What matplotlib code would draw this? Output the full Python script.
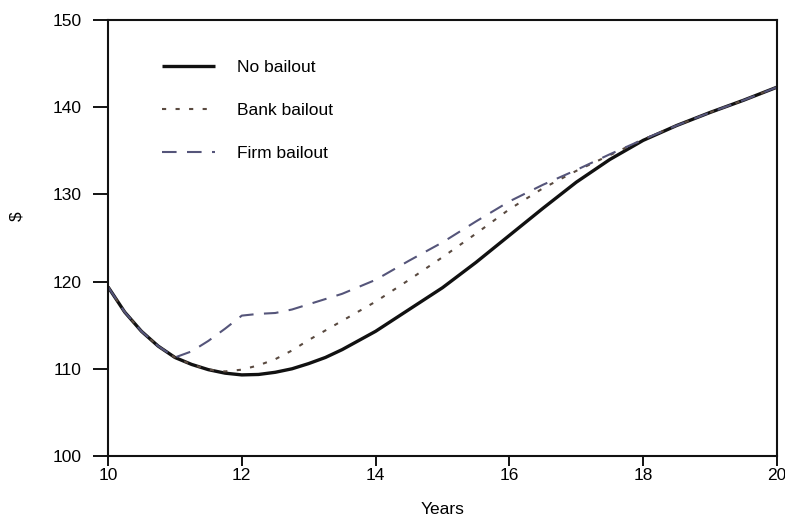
import numpy as np
import matplotlib
matplotlib.use("Agg")
import matplotlib.pyplot as plt

plt.rcParams['font.family'] = ['Liberation Sans', 'DejaVu Sans']

# years on the x axis
years = [10, 10.25, 10.5, 10.75, 11, 11.25, 11.5, 11.75, 12, 12.25, 12.5, 12.75, 13,
         13.25, 13.5, 14, 14.5, 15, 15.5, 16, 16.5, 17, 17.5, 18, 18.5, 19, 19.5, 20]

no_bailout = [119.4, 116.5, 114.3, 112.6, 111.3, 110.5, 109.9, 109.5, 109.3, 109.35,
              109.6, 110.0, 110.6, 111.3, 112.2, 114.3, 116.8, 119.3, 122.2, 125.3,
              128.4, 131.4, 134.0, 136.2, 137.9, 139.4, 140.8, 142.3]

bank_bailout = [119.4, 116.5, 114.3, 112.6, 111.3, 110.5, 109.9, 109.7, 109.9, 110.4,
                111.1, 112.1, 113.3, 114.4, 115.5, 117.7, 120.2, 122.8, 125.5, 128.3,
                130.7, 132.7, 134.5, 136.3, 137.9, 139.4, 140.8, 142.3]

firm_bailout = [119.4, 116.5, 114.3, 112.6, 111.3, 112.0, 113.2, 114.6, 116.1, 116.3,
                116.4, 116.8, 117.4, 118.0, 118.6, 120.2, 122.4, 124.5, 126.9, 129.2,
                131.1, 132.8, 134.6, 136.3, 137.9, 139.4, 140.8, 142.3]

fig = plt.figure(figsize=(7.85, 5.16), dpi=100)
ax = fig.add_axes([0.1376, 0.1163, 0.8522, 0.8449])

ax.plot(years, no_bailout, color='#111111', lw=2.4, label='No bailout',
        solid_capstyle='butt', solid_joinstyle='round')
ax.plot(years, bank_bailout, color='#5a4a40', lw=1.5, dashes=(2, 4.5),
        label='Bank bailout')
ax.plot(years, firm_bailout, color='#55557a', lw=1.5, dashes=(7, 5),
        label='Firm bailout')

ax.set_xlim(10, 20)
ax.set_ylim(100, 150)
ax.set_xticks([10, 12, 14, 16, 18, 20])
ax.set_yticks([100, 110, 120, 130, 140, 150])

for s in ax.spines.values():
    s.set_linewidth(1.5)
    s.set_color('#111111')

ax.tick_params(axis='y', direction='out', length=11, width=1.3, labelsize=12.5, pad=8)
ax.tick_params(axis='x', direction='out', length=7, width=1.3, labelsize=12.5, pad=2)

ax.set_xlabel('Years', fontsize=12.5)
ax.xaxis.set_label_coords(0.5, -0.105)
ax.set_ylabel('$', fontsize=12.5)
ax.yaxis.set_label_coords(-0.125, 0.55)

leg = ax.legend(loc='upper left', bbox_to_anchor=(0.058, 0.945), frameon=False,
                fontsize=12.5, handlelength=3.0, handletextpad=1.3, labelspacing=1.6)

fig.savefig('out.png', dpi=100)
